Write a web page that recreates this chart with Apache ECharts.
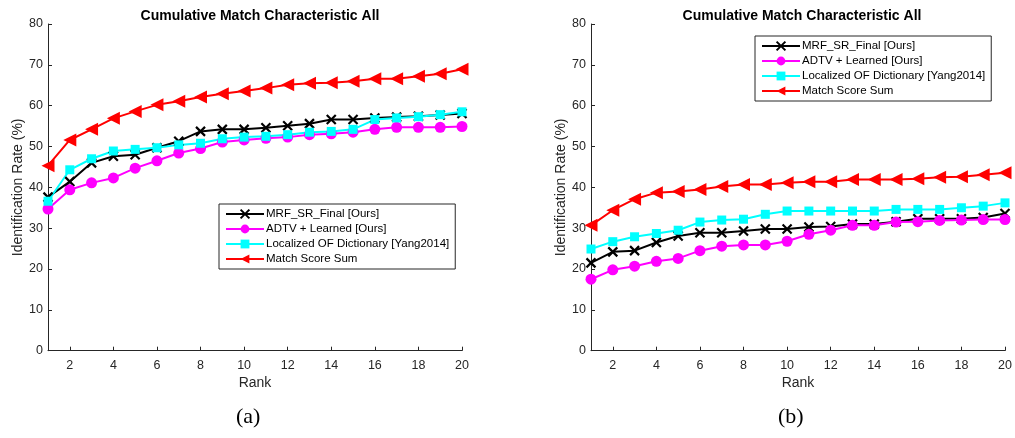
<!DOCTYPE html>
<html>
<head>
<meta charset="utf-8">
<script src="https://cdn.jsdelivr.net/npm/echarts@6/dist/echarts.min.js"></script>
<style>html,body{margin:0;padding:0;background:#fff}#c{width:1015px;height:438px}</style>
</head>
<body>
<div id="c"></div>
<script>
const ranks = [1,2,3,4,5,6,7,8,9,10,11,12,13,14,15,16,17,18,19,20];
const xTicks = [2,4,6,8,10,12,14,16,18,20];
const seriesNames = ['MRF_SR_Final [Ours]','ADTV + Learned [Ours]','Localized OF Dictionary [Yang2014]','Match Score Sum'];
const titleText = 'Cumulative Match Characteristic All';
const yName = 'Identification Rate (%)';
const xName = 'Rank';
const captions = ['(a)','(b)'];

// Panel (a)
const a_mrf   = [37.6,41.4,46.0,47.6,48.0,49.7,51.3,53.7,54.2,54.2,54.6,55.1,55.6,56.6,56.6,57.0,57.2,57.4,57.7,58.1];
const a_adtv  = [34.7,39.4,41.1,42.3,44.7,46.5,48.4,49.5,51.1,51.6,52.0,52.3,52.9,53.1,53.5,54.2,54.7,54.7,54.7,54.9];
const a_local = [36.6,44.3,47.0,48.9,49.3,49.7,50.4,50.8,51.9,52.3,52.5,52.9,53.5,53.7,54.2,56.6,57.0,57.3,57.8,58.5];
const a_sum   = [45.3,51.6,54.2,56.9,58.6,60.2,61.1,62.1,62.9,63.6,64.3,65.1,65.5,65.6,66.0,66.6,66.6,67.2,67.8,68.9];
// Panel (b)
const b_mrf   = [21.5,24.2,24.5,26.5,28.1,28.9,28.9,29.3,29.8,29.8,30.3,30.4,31.0,31.0,31.6,32.3,32.3,32.3,32.6,33.6];
const b_adtv  = [17.5,19.8,20.7,21.9,22.6,24.5,25.6,25.9,25.9,26.8,28.5,29.5,30.7,30.7,31.5,31.6,31.9,32.0,32.1,32.1];
const b_local = [24.9,26.7,27.9,28.7,29.5,31.5,32.0,32.2,33.4,34.2,34.2,34.2,34.2,34.2,34.6,34.6,34.6,35.0,35.4,36.2];
const b_sum   = [30.7,34.4,37.1,38.7,39.0,39.5,40.2,40.7,40.7,41.1,41.4,41.4,41.9,41.9,41.9,42.1,42.5,42.6,43.1,43.6];

const AX = '#262626';
const FONT = 'Liberation Sans, Arial, Helvetica, sans-serif';
const styles = [
  {color:'#000000', symbol:'path://M0,0L10,10M10,0L0,10', symbolSize:9, rotate:0, cross:true},
  {color:'#ff00ff', symbol:'circle', symbolSize:11, rotate:0},
  {color:'#00ffff', symbol:'rect', symbolSize:9, rotate:0},
  {color:'#ff0000', symbol:'triangle', symbolSize:13, rotate:90}
];

function mkSeries(idx, arrs){
  return arrs.map((arr,i)=>{
    const s = styles[i];
    return {
      name: seriesNames[i], type:'line', xAxisIndex:idx, yAxisIndex:idx,
      data: ranks.map((r,k)=>[r, arr[k]]),
      symbol: s.symbol, symbolSize: s.symbolSize, symbolRotate: s.rotate,
      showAllSymbol:true, animation:false,
      lineStyle:{color:s.color, width:2},
      itemStyle: s.cross ? {color:s.color, borderColor:s.color, borderWidth:2.2} : {color:s.color},
      emphasis:{disabled:true}
    };
  });
}

function xAx(gi){
  return {
    type:'value', gridIndex:gi, min:1, max:20,
    name:xName, nameLocation:'middle', nameGap:25,
    nameTextStyle:{color:AX, fontSize:14, fontFamily:FONT},
    axisLine:{show:true, lineStyle:{color:AX, width:1}},
    axisTick:{show:true, inside:true, length:4, customValues:xTicks, lineStyle:{color:AX}},
    axisLabel:{customValues:xTicks, color:AX, fontSize:12.5, fontFamily:FONT, margin:8},
    splitLine:{show:false}
  };
}
function yAx(gi){
  return {
    type:'value', gridIndex:gi, min:0, max:80, interval:10,
    name:yName, nameLocation:'middle', nameGap:23, nameRotate:90,
    nameTextStyle:{color:AX, fontSize:14, fontFamily:FONT},
    axisLine:{show:true, lineStyle:{color:AX, width:1}},
    axisTick:{show:true, inside:true, length:4, lineStyle:{color:AX}},
    axisLabel:{color:AX, fontSize:12.5, fontFamily:FONT, margin:5},
    splitLine:{show:false}
  };
}
function legend(left, top){
  return {
    orient:'vertical', left:left, top:top,
    data: seriesNames,
    itemWidth:38, itemHeight:11, itemGap:3,
    padding:[4,6,4,6],
    backgroundColor:'#ffffff', borderColor:AX, borderWidth:1, borderRadius:0,
    textStyle:{color:'#000', fontSize:11.5, fontFamily:FONT, padding:[0,0,0,-3]},
    selectedMode:false, inactiveColor:'#000'
  };
}

const chart = echarts.init(document.getElementById('c'), null, {renderer:'canvas'});
chart.setOption({
  animation:false,
  backgroundColor:'#fff',
  title:[
    {text:titleText, left:255, top:4, textAlign:'center', textStyle:{fontSize:14, fontWeight:'bold', color:'#000', fontFamily:FONT}},
    {text:titleText, left:797, top:4, textAlign:'center', textStyle:{fontSize:14, fontWeight:'bold', color:'#000', fontFamily:FONT}}
  ],
  grid:[
    {left:48, top:24, width:414, height:326.7},
    {left:591, top:24, width:414, height:326.7}
  ],
  xAxis:[xAx(0), xAx(1)],
  yAxis:[yAx(0), yAx(1)],
  legend:[legend(219,204), legend(755,36)],
  series: mkSeries(0,[a_mrf,a_adtv,a_local,a_sum]).concat(mkSeries(1,[b_mrf,b_adtv,b_local,b_sum])),
  graphic:[
    {type:'text', left:236, top:406, style:{text:captions[0], font:'22px "Liberation Serif", "Times New Roman", serif', fill:'#000'}},
    {type:'text', left:778, top:406, style:{text:captions[1], font:'22px "Liberation Serif", "Times New Roman", serif', fill:'#000'}}
  ]
});
</script>
</body>
</html>
